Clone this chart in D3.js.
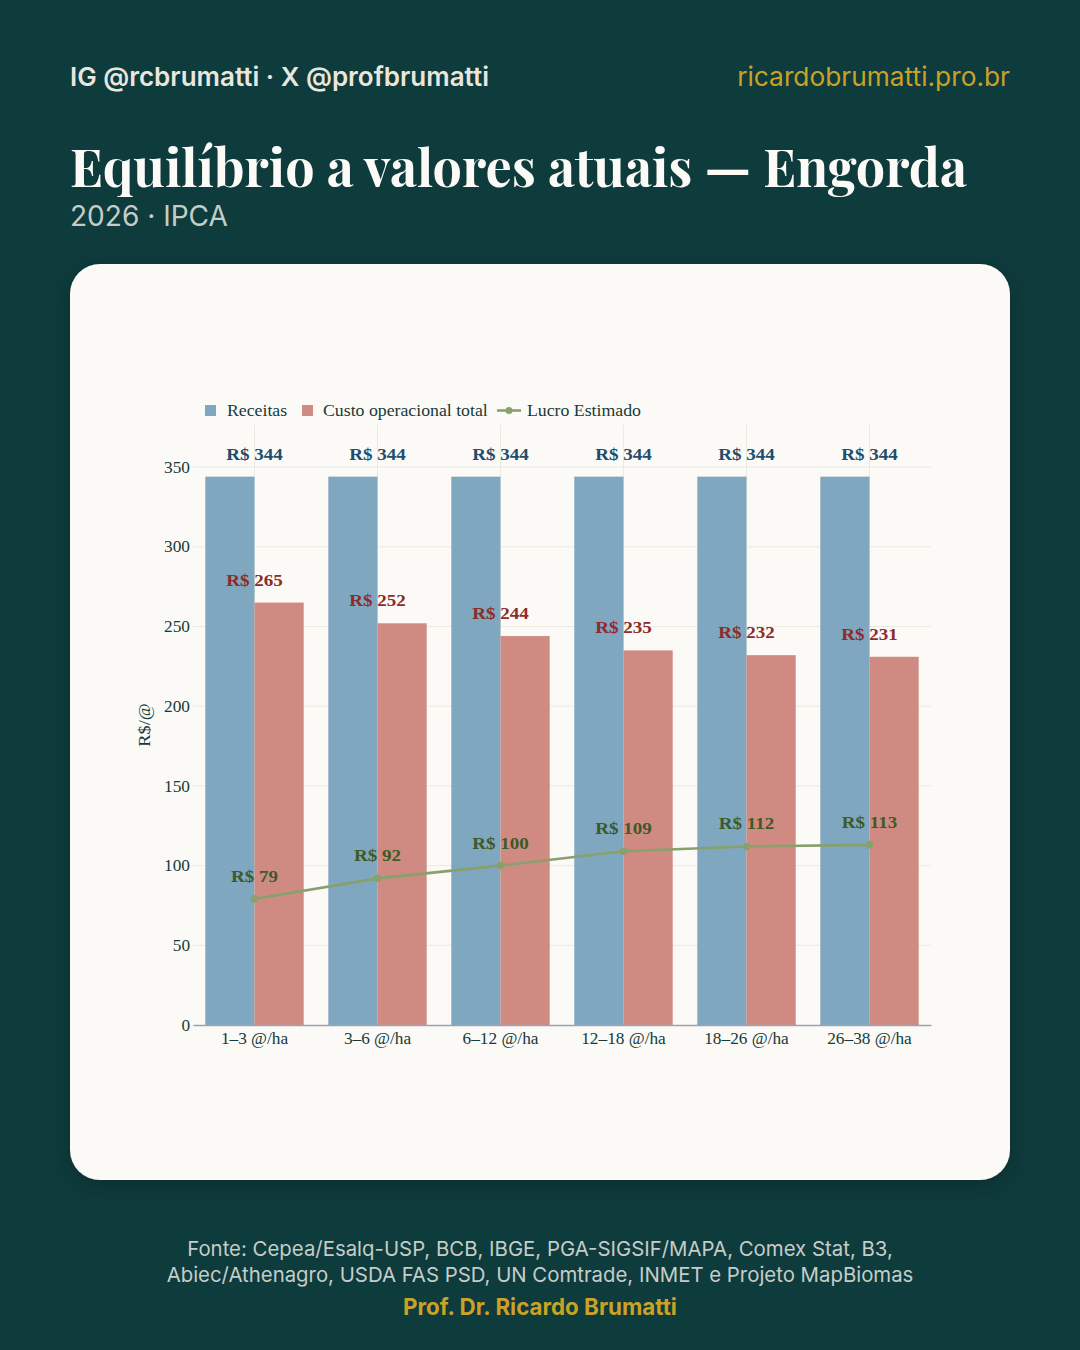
<!DOCTYPE html>
<html><head><meta charset="utf-8">
<script src="https://cdn.jsdelivr.net/npm/d3@7"></script>
<style>html,body{margin:0;padding:0;background:#0e3b3c;} svg{display:block}</style>
</head><body>
<svg id="c" width="1080" height="1350"></svg>
<script>
// ---- data ----
const categories = ["1–3 @/ha","3–6 @/ha","6–12 @/ha","12–18 @/ha","18–26 @/ha","26–38 @/ha"];
const receitas = [344,344,344,344,344,344];
const custo = [265,252,244,235,232,231];
const lucro = [79,92,100,109,112,113];
const yTicks = [0,50,100,150,200,250,300,350];
const seriesNames = ["Receitas","Custo operacional total","Lucro Estimado"];

// ---- style ----
const BG = "#0e3b3c", CARD = "#fbfaf6", GOLD = "#c9a227";
const C_REC = "#7fa7c0", C_CUS = "#cf8b82", C_LUC = "#88a06b";
const L_REC = "#1f4e6e", L_CUS = "#8e2b2b", L_LUC = "#3d5a28";
const INK = "#163a3a";
const SERIF = "Georgia, 'Liberation Serif', serif";
const SANS = "Inter, 'Noto Sans', sans-serif";

const svg = d3.select("#c");
svg.append("rect").attr("width",1080).attr("height",1350).attr("fill",BG);

const defs = svg.append("defs");
const f = defs.append("filter").attr("id","sh").attr("x","-10%").attr("y","-10%").attr("width","120%").attr("height","120%");
f.append("feDropShadow").attr("dx",0).attr("dy",6).attr("stdDeviation",12).attr("flood-color","#000").attr("flood-opacity",0.22);

function fit(sel, target){
  const n = sel.node(); const w = n.getComputedTextLength();
  const fs = parseFloat(sel.attr("font-size"));
  if (w>0) sel.attr("font-size", fs*target/w);
}
function widen(sel, k){
  sel.each(function(){
    const w = this.getComputedTextLength();
    if (w>0) d3.select(this).attr("textLength", w*k).attr("lengthAdjust","spacingAndGlyphs");
  });
}

// header
const h1 = svg.append("text").attr("x",70).attr("y",86).attr("font-family",SANS).attr("font-weight",600)
  .attr("font-size",26).attr("fill","#e9e6df").text("IG @rcbrumatti · X @profbrumatti");
fit(h1, 419);
const h2 = svg.append("text").attr("x",1010).attr("y",86).attr("text-anchor","end").attr("font-family",SANS)
  .attr("font-size",26).attr("fill",GOLD).text("ricardobrumatti.pro.br");
fit(h2, 273);

const title = svg.append("text").attr("x",70).attr("y",187).attr("font-family","'Playfair Display', 'Liberation Serif', serif")
  .attr("font-weight",700).attr("font-size",54).attr("fill","#fbfaf6").text("Equilíbrio a valores atuais — Engorda");
fit(title, 897);
const sub = svg.append("text").attr("x",70).attr("y",226).attr("font-family",SANS).attr("font-size",28)
  .attr("fill","#c5cdc9").text("2026 · IPCA");
fit(sub, 158);

// card
svg.append("rect").attr("x",70).attr("y",264).attr("width",940).attr("height",916).attr("rx",30)
  .attr("fill",CARD).attr("filter","url(#sh)");

// scales
const x = d3.scaleBand().domain(categories).range([193,931]).padding(0);
const y = d3.scaleLinear().domain([0,376.4]).range([1025,425]);
const groupW = x.bandwidth()*0.8, barW = groupW/2;

const g = svg.append("g");
// grid
g.selectAll(".hg").data(yTicks.filter(d=>d>0)).join("line")
  .attr("x1",193).attr("x2",931).attr("y1",d=>y(d)).attr("y2",d=>y(d))
  .attr("stroke","#ece9e1").attr("stroke-width",1);
g.selectAll(".vg").data(categories).join("line")
  .attr("x1",d=>x(d)+x.bandwidth()/2).attr("x2",d=>x(d)+x.bandwidth()/2)
  .attr("y1",425).attr("y2",1025).attr("stroke","#ece9e1").attr("stroke-width",1);

// bars
const data = categories.map((c,i)=>({c, r:receitas[i], k:custo[i], l:lucro[i]}));
g.selectAll(".br").data(data).join("rect")
  .attr("x",d=>x(d.c)+x.bandwidth()*0.1).attr("width",barW)
  .attr("y",d=>y(d.r)).attr("height",d=>y(0)-y(d.r)).attr("fill",C_REC);
g.selectAll(".bc").data(data).join("rect")
  .attr("x",d=>x(d.c)+x.bandwidth()*0.1+barW).attr("width",barW)
  .attr("y",d=>y(d.k)).attr("height",d=>y(0)-y(d.k)).attr("fill",C_CUS);

// axes
const xAxis = d3.axisBottom(x).tickSize(0).tickPadding(6);
const xa = svg.append("g").attr("transform","translate(0,1025)").call(xAxis);
xa.select(".domain").attr("stroke","#9aa3b3").attr("stroke-width",1.3);
xa.selectAll("text").attr("font-family",SERIF).attr("font-size",16).attr("fill",INK).attr("dy","0.8em");
widen(xa.selectAll("text"), 1.08);

const yAxis = d3.axisLeft(y).tickValues(yTicks).tickSize(0).tickPadding(2);
const ya = svg.append("g").attr("transform","translate(192,0)").call(yAxis);
ya.select(".domain").remove();
ya.selectAll("text").attr("font-family",SERIF).attr("font-size",16).attr("fill",INK);
widen(ya.selectAll("text"), 1.08);

const yt = svg.append("text").attr("transform","translate(150,725) rotate(-90)").attr("text-anchor","middle")
  .attr("font-family",SERIF).attr("font-size",17).attr("fill",INK).text("R$/@");
widen(yt, 1.08);

// line
const cx = d=>x(d.c)+x.bandwidth()/2;
const line = d3.line().x(cx).y(d=>y(d.l)).curve(d3.curveLinear);
g.append("path").datum(data).attr("d",line).attr("fill","none").attr("stroke",C_LUC).attr("stroke-width",2.6);
g.selectAll(".pt").data(data).join("circle").attr("cx",cx).attr("cy",d=>y(d.l)).attr("r",3.8).attr("fill",C_LUC);

// labels
function labels(key,color){
  const t = g.selectAll(".lb"+key).data(data).join("text").attr("x",cx).attr("y",d=>y(d[key])-17)
    .attr("text-anchor","middle").attr("font-family",SERIF).attr("font-weight",700)
    .attr("font-size",17).attr("fill",color).text(d=>"R$ "+d[key]);
  widen(t, 1.12);
}
labels("r",L_REC); labels("k",L_CUS); labels("l",L_LUC);

// legend
const lg = svg.append("g").attr("font-family",SERIF).attr("font-size",16).attr("fill",INK);
lg.append("rect").attr("x",205).attr("y",405).attr("width",11).attr("height",11).attr("fill",C_REC);
lg.append("text").attr("x",227).attr("y",416).text(seriesNames[0]);
lg.append("rect").attr("x",302).attr("y",405).attr("width",11).attr("height",11).attr("fill",C_CUS);
lg.append("text").attr("x",323).attr("y",416).text(seriesNames[1]);
lg.append("line").attr("x1",497).attr("x2",521).attr("y1",410.5).attr("y2",410.5).attr("stroke",C_LUC).attr("stroke-width",2.6);
lg.append("circle").attr("cx",509).attr("cy",410.5).attr("r",3.5).attr("fill",C_LUC);
lg.append("text").attr("x",527).attr("y",416).text(seriesNames[2]);
widen(lg.selectAll("text"), 1.11);

// footer
const ft = svg.append("g").attr("font-family",SANS).attr("text-anchor","middle");
const f1 = ft.append("text").attr("x",540).attr("y",1256).attr("font-size",20).attr("fill","#c5cdc9")
  .text("Fonte: Cepea/Esalq-USP, BCB, IBGE, PGA-SIGSIF/MAPA, Comex Stat, B3,");
fit(f1, 706);
const f2 = ft.append("text").attr("x",540).attr("y",1282).attr("font-size",20).attr("fill","#c5cdc9")
  .text("Abiec/Athenagro, USDA FAS PSD, UN Comtrade, INMET e Projeto MapBiomas");
fit(f2, 747);
const f3 = ft.append("text").attr("x",540).attr("y",1315).attr("font-size",22).attr("font-weight",700).attr("fill",GOLD)
  .text("Prof. Dr. Ricardo Brumatti");
fit(f3, 274);
</script>
</body></html>
